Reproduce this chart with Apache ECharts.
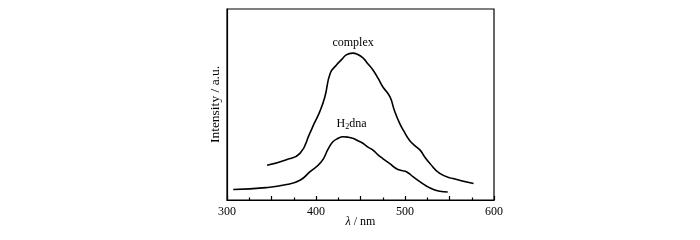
<!DOCTYPE html>
<html>
<head>
<meta charset="utf-8">
<script src="https://cdn.jsdelivr.net/npm/echarts@6/dist/echarts.min.js"></script>
<style>
  html, body { margin: 0; padding: 0; background: #fff; }
  #chart { width: 700px; height: 240px; }
</style>
</head>
<body>
<div id="chart"></div>
<script>
// wavelength (nm) and intensity (a.u.)
const complexNm = [345, 366, 382, 393, 398, 404, 410, 416, 423, 429, 434, 441, 447, 453, 458, 464, 470, 475, 483, 488, 494, 500, 505, 511, 517, 522, 528, 539, 554, 577];
const complexI  = [18.2, 21, 24.4, 34.9, 40.1, 46, 54.1, 66.4, 70.7, 73.6, 76, 76.9, 76.2, 74.3, 71.5, 68.1, 63.5, 59.3, 54.1, 47, 40.1, 35, 31.3, 28.5, 26.1, 22.6, 19.1, 13.9, 11.2, 8.6];

const dnaNm = [307, 344, 367, 382, 393, 406, 414, 419, 425, 430, 436, 442, 447, 453, 458, 464, 470, 475, 483, 490, 496, 502, 509, 517, 524, 532, 539, 548];
const dnaI  = [5.5, 6.5, 8.1, 10.3, 14.7, 20, 27, 30.5, 32.3, 33.1, 32.9, 32.2, 31, 29.6, 27.8, 26.1, 23.5, 21.7, 19, 16.5, 15.4, 14.7, 12.2, 9.5, 7.3, 5.5, 4.6, 4.2];

const xTicks = [300, 400, 500, 600];

function pairs(xs, ys) { return xs.map((x, i) => [x, ys[i]]); }

const chart = echarts.init(document.getElementById('chart'));
const font = 'Liberation Serif';

chart.setOption({
  animation: false,
  grid: { left: 227, right: 206, top: 9, bottom: 40, show: true, borderColor: '#000', borderWidth: 1.2 },
  xAxis: {
    type: 'value', min: 300, max: 600, interval: 50,
    name: '{i|λ} / nm', nameLocation: 'middle', nameGap: 16, nameMoveOverlap: false,
    nameTextStyle: { fontFamily: font, fontSize: 12, color: '#000',
      rich: { i: { fontFamily: font, fontStyle: 'italic', fontSize: 12, color: '#000' } } },
    axisLine: { show: true, lineStyle: { color: '#000', width: 1.2 } },
    axisTick: { show: true, inside: true, length: 4, lineStyle: { color: '#000', width: 1.2 } },
    minorTick: { show: true, splitNumber: 2, length: 2.5, lineStyle: { color: '#000', width: 1.2 } },
    splitLine: { show: false },
    axisLabel: {
      margin: 6, fontFamily: font, fontSize: 12, color: '#000',
      formatter: v => xTicks.indexOf(v) >= 0 ? String(v) : ''
    }
  },
  yAxis: {
    type: 'value', min: 0, max: 100,
    name: 'Intensity / a.u.', nameLocation: 'middle', nameGap: 5, nameMoveOverlap: false,
    nameTextStyle: { fontFamily: font, fontSize: 13.5, color: '#000' },
    axisLine: { show: true, lineStyle: { color: '#000', width: 1.2 } },
    axisTick: { show: false }, axisLabel: { show: false }, splitLine: { show: false }
  },
  series: [
    {
      type: 'line', smooth: 0.5, showSymbol: false, data: pairs(complexNm, complexI),
      lineStyle: { color: '#000', width: 1.6 },
      markPoint: {
        symbol: 'circle', symbolSize: 0,
        label: { show: true, formatter: 'complex', fontFamily: font, fontSize: 12, color: '#000' },
        data: [{ coord: [441.7, 82.5] }]
      }
    },
    {
      type: 'line', smooth: 0.5, showSymbol: false, data: pairs(dnaNm, dnaI),
      lineStyle: { color: '#000', width: 1.6 },
      markPoint: {
        symbol: 'circle', symbolSize: 0,
        label: {
          show: true, formatter: 'H{s|2}dna', fontFamily: font, fontSize: 12, color: '#000',
          rich: { s: { fontFamily: font, fontSize: 8, color: '#000', verticalAlign: 'bottom', padding: [6, 0, 0, 0] } }
        },
        data: [{ coord: [440, 40.1] }]
      }
    }
  ]
});
</script>
</body>
</html>
